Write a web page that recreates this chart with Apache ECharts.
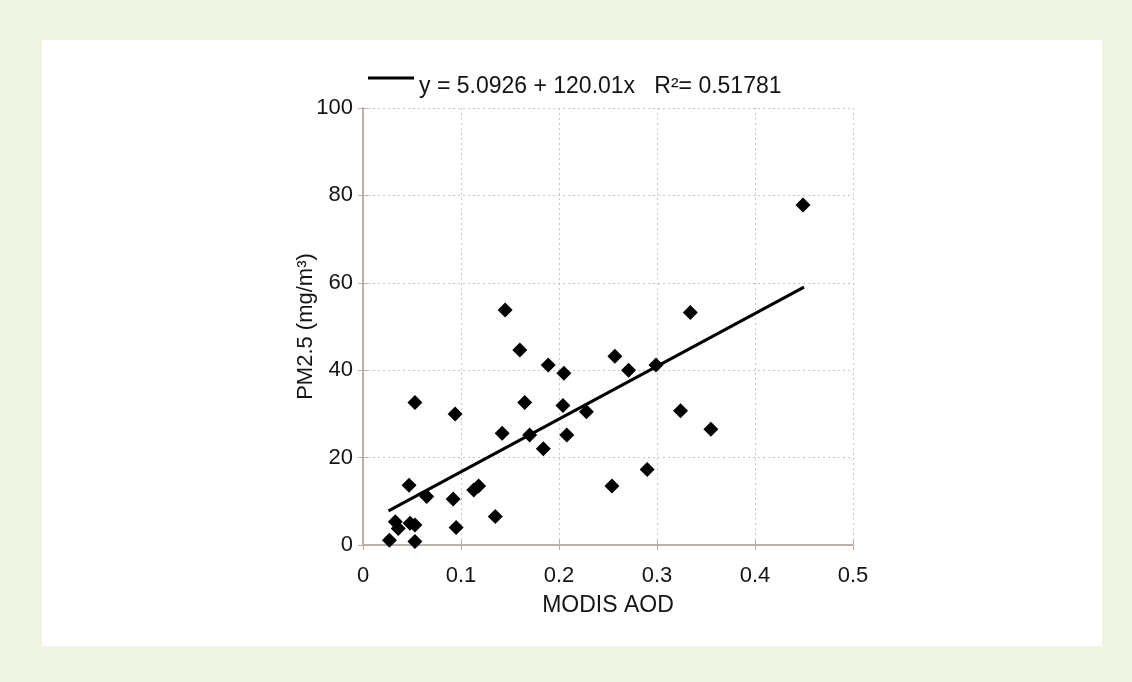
<!DOCTYPE html>
<html>
<head>
<meta charset="utf-8">
<script src="https://cdn.jsdelivr.net/npm/echarts@6/dist/echarts.min.js"></script>
<style>
html,body{margin:0;padding:0;background:#eef5e3;}
#panel{position:absolute;left:42px;top:40px;width:1060px;height:606px;background:#ffffff;}
#chart{position:absolute;left:0;top:0;width:1132px;height:682px;}
</style>
</head>
<body>
<div id="panel"></div>
<div id="chart"></div>
<script>
// MODIS AOD (x) vs PM2.5 (y)
const aod = [0.449,0.334,0.145,0.160,0.189,0.205,0.257,0.271,0.299,0.053,0.094,0.165,0.204,0.228,0.324,0.355,0.142,0.170,0.208,0.184,0.290,0.254,0.047,0.065,0.092,0.113,0.118,0.135,0.095,0.033,0.036,0.048,0.053,0.027,0.053];
const pm25 = [77.8,53.2,53.8,44.6,41.2,39.3,43.2,40.0,41.2,32.6,30.0,32.6,31.9,30.5,30.7,26.5,25.6,25.2,25.2,22.0,17.3,13.5,13.7,11.1,10.5,12.6,13.5,6.5,4.0,5.3,3.8,5.0,4.6,1.1,0.8];
// fitted line end points as drawn
const fitX = [0.026, 0.45];
const fitY = [7.8, 59.0];
const fitName = 'y = 5.0926 + 120.01x   R\u00b2= 0.51781';
const xTicks = [0, 0.1, 0.2, 0.3, 0.4, 0.5];
const yTicks = [0, 20, 40, 60, 80, 100];

const scatterData = aod.map((x, i) => [x, pm25[i]]);
const lineData = fitX.map((x, i) => [x, fitY[i]]);

const axisColor = '#b8ada9';
const gridColor = '#cfc3bf';
const textColor = '#141414';
const font = 'Liberation Sans, Arial, sans-serif';

const chart = echarts.init(document.getElementById('chart'), null, {renderer: 'canvas'});
chart.setOption({
  backgroundColor: 'transparent',
  animation: false,
  textStyle: {fontFamily: font},
  grid: {left: 363, top: 108, right: 279, bottom: 137, containLabel: false},
  legend: {
    show: true,
    data: [{name: fitName, icon: 'path://M0,0H46V3H0Z M0,19.9H0.1V20H0Z'}],
    left: 368, top: 75, padding: 0,
    itemWidth: 46, itemHeight: 20, itemGap: 4,
    itemStyle: {color: '#000', borderWidth: 0},
    textStyle: {fontSize: 23, color: textColor, fontFamily: font}
  },
  xAxis: [{
    type: 'value', min: 0, max: 0.5, interval: 0.1,
    name: 'MODIS AOD', nameLocation: 'middle', nameGap: 49, nameMoveOverlap: false,
    nameTextStyle: {fontSize: 23, color: textColor},
    axisLine: {show: true, lineStyle: {color: axisColor, width: 1.5}},
    axisTick: {show: true, inside: true, length: 5, lineStyle: {color: axisColor}},
    axisLabel: {fontSize: 22, color: textColor, margin: 20, formatter: v => xTicks.includes(+v.toFixed(1)) ? String(+v.toFixed(1)) : ''},
    splitLine: {show: true, lineStyle: {color: gridColor, type: [2, 3], width: 1}}
  }, {
    type: 'value', min: 0, max: 0.5, interval: 0.1, position: 'top',
    axisLine: {show: true, lineStyle: {color: axisColor, width: 1.5}},
    axisTick: {show: true, inside: true, length: 5, lineStyle: {color: axisColor}},
    axisLabel: {show: false}, splitLine: {show: false}
  }],
  yAxis: [{
    type: 'value', min: 0, max: 100, interval: 20,
    name: 'PM2.5 (mg/m\u00b3)', nameLocation: 'middle', nameGap: 46, nameRotate: 90, nameMoveOverlap: false,
    nameTextStyle: {fontSize: 22, color: textColor},
    axisLine: {show: true, lineStyle: {color: axisColor, width: 1.5}},
    axisTick: {show: true, inside: true, length: 5, lineStyle: {color: axisColor}},
    axisLabel: {fontSize: 22, color: textColor, margin: 10, formatter: v => yTicks.includes(v) ? String(v) : ''},
    splitLine: {show: true, lineStyle: {color: gridColor, type: [2, 3], width: 1}}
  }, {
    type: 'value', min: 0, max: 100, interval: 20, position: 'right',
    axisLine: {show: true, lineStyle: {color: axisColor, width: 1.5}},
    axisTick: {show: true, inside: true, length: 5, lineStyle: {color: axisColor}},
    axisLabel: {show: false}, splitLine: {show: false}
  }],
  series: [{
    name: 'points', type: 'scatter', data: scatterData,
    symbol: 'diamond', symbolSize: 15,
    itemStyle: {color: '#000', opacity: 1}, z: 3
  }, {
    name: fitName, type: 'line', data: lineData,
    symbol: 'none', lineStyle: {color: '#000', width: 3},
    itemStyle: {color: '#000'}, z: 4
  }]
});
</script>
</body>
</html>
